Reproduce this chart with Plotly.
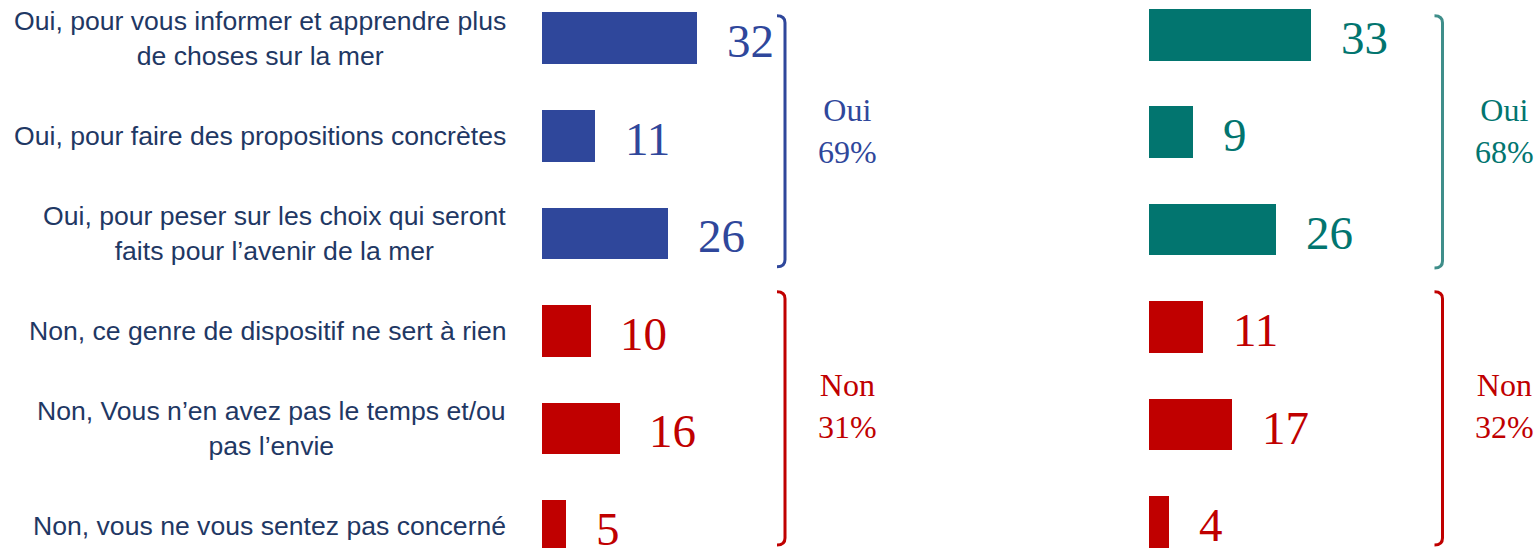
import plotly.graph_objects as go

# ---------------- data ----------------
categories = [
    "Oui, pour vous informer et apprendre plus<br>de choses sur la mer",
    "Oui, pour faire des propositions concrètes",
    "Oui, pour peser sur les choix qui seront<br>faits pour l’avenir de la mer",
    "Non, ce genre de dispositif ne sert à rien",
    "Non, Vous n’en avez pas le temps et/ou<br>pas l’envie",
    "Non, vous ne vous sentez pas concerné",
]
groups = ["Oui", "Oui", "Oui", "Non", "Non", "Non"]
values_left = [32, 11, 26, 10, 16, 5]
values_right = [33, 9, 26, 11, 17, 4]
group_names = ["Oui", "Non"]
totals_left = [69, 31]
totals_right = [68, 32]

# ---------------- styles ----------------
W, H = 1540, 548
BLUE = "#2F479B"
TEAL = "#02756F"
TEAL_BR = "#3F8E8A"
RED = "#C00000"
NAVY = "#1F3864"
SERIF = "Liberation Serif, Times New Roman, serif"
SANS = "Liberation Sans, Arial, sans-serif"

left_colors = [BLUE if g == "Oui" else RED for g in groups]
right_colors = [TEAL if g == "Oui" else RED for g in groups]


def px(x):
    return x / W


def py(y):
    return 1 - y / H


fig = go.Figure()
fig.add_trace(go.Bar(x=values_left, y=categories, orientation="h",
                     marker=dict(color=left_colors, line=dict(width=0)),
                     width=0.53, xaxis="x", yaxis="y", hoverinfo="skip"))
fig.add_trace(go.Bar(x=values_right, y=categories, orientation="h",
                     marker=dict(color=right_colors, line=dict(width=0)),
                     width=0.53, xaxis="x2", yaxis="y2", hoverinfo="skip"))

annotations = []
# value labels
for cat, v, c in zip(categories, values_left, left_colors):
    annotations.append(dict(x=v, y=cat, xref="x", yref="y", text=str(v),
                            xanchor="left", yanchor="middle", xshift=28, yshift=-3,
                            showarrow=False, font=dict(family=SERIF, size=47, color=c)))
for cat, v, c in zip(categories, values_right, right_colors):
    annotations.append(dict(x=v, y=cat, xref="x2", yref="y2", text=str(v),
                            xanchor="left", yanchor="middle", xshift=28, yshift=-3,
                            showarrow=False, font=dict(family=SERIF, size=47, color=c)))
# category labels
for cat in categories:
    annotations.append(dict(x=px(508), y=cat, xref="paper", yref="y", text=cat,
                            xanchor="right", yanchor="middle", align="center",
                            showarrow=False, font=dict(family=SANS, size=26.6, color=NAVY)))

# group totals
group_pos_y = [131, 406]
for name, tl, tr, yy in zip(group_names, totals_left, totals_right, group_pos_y):
    cl = BLUE if name == "Oui" else RED
    cr = TEAL if name == "Oui" else RED
    annotations.append(dict(x=px(847), y=py(yy), xref="paper", yref="paper",
                            text=f"{name}<br>{tl}%", xanchor="center", yanchor="middle",
                            align="center", showarrow=False,
                            font=dict(family=SERIF, size=32, color=cl)))
    annotations.append(dict(x=px(1504), y=py(yy), xref="paper", yref="paper",
                            text=f"{name}<br>{tr}%", xanchor="center", yanchor="middle",
                            align="center", showarrow=False,
                            font=dict(family=SERIF, size=32, color=cr)))


# brackets
def bracket(xv, y0, y1, color, hook=8, r=7):
    x0 = xv - hook
    path = (f"M {px(x0)},{py(y0)} Q {px(xv)},{py(y0)} {px(xv)},{py(y0 + r)} "
            f"L {px(xv)},{py(y1 - r)} Q {px(xv)},{py(y1)} {px(x0)},{py(y1)}")
    return dict(type="path", path=path, xref="paper", yref="paper",
                line=dict(color=color, width=3))


shapes = [
    bracket(785, 15.7, 266.7, BLUE),
    bracket(785, 291.7, 545, RED),
    bracket(1442.5, 15.7, 268, TEAL_BR),
    bracket(1442.5, 291.7, 545, RED),
]

fig.update_layout(
    width=W, height=H,
    margin=dict(l=0, r=0, t=0, b=0),
    paper_bgcolor="white", plot_bgcolor="white",
    showlegend=False,
    bargap=0,
    xaxis=dict(domain=[px(541.7), px(1100)], range=[0, (1100 - 541.7) / 4.85],
               visible=False, fixedrange=True),
    yaxis=dict(domain=[0, 1], type="category", categoryorder="array",
               categoryarray=categories, range=[5.2255, -0.393], visible=False,
               anchor="x"),
    xaxis2=dict(domain=[px(1149), 1], range=[0, (1540 - 1149) / 4.9],
                visible=False, anchor="y2"),
    yaxis2=dict(domain=[0, 1], type="category", categoryorder="array",
                categoryarray=categories, range=[5.267, -0.357], visible=False,
                anchor="x2"),
    annotations=annotations,
    shapes=shapes,
)

fig.write_html(
    "out.html",
    config={"displayModeBar": False},
    post_script="document.body.style.margin='0px';document.body.style.overflow='hidden';",
)
